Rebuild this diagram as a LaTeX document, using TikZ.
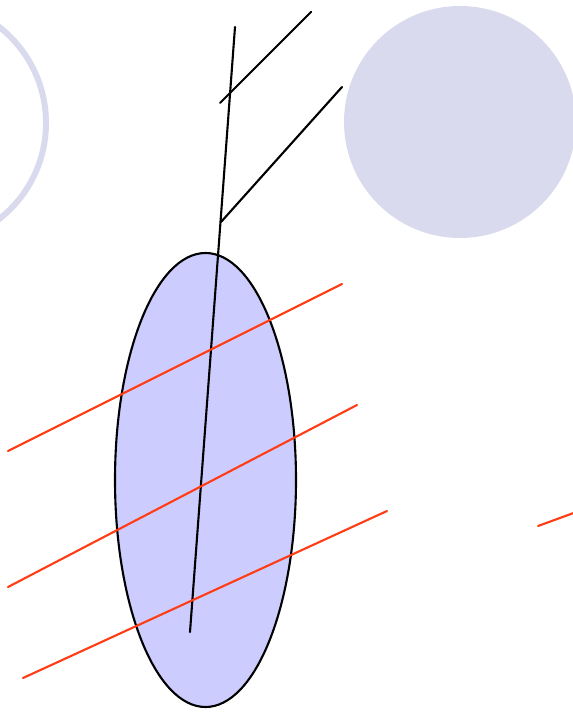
\documentclass[tikz,border=0pt]{standalone}
\usepackage{tikz}
\usetikzlibrary{positioning}
\definecolor{lavender}{HTML}{DADAEE}
\definecolor{lilac}{HTML}{CCCCFF}
\definecolor{redline}{HTML}{FF3C14}
\tikzset{
  stem/.style={black, line width=1.2pt},
  ray/.style={redline, line width=1.2pt}
}
\begin{document}
\begin{tikzpicture}[x=0.02cm,y=-0.02cm, line cap=round, line join=round]
\useasboundingbox (0,0) rectangle (573,712);
\clip (0,0) rectangle (573,712);

% Ring on the left
\draw[lavender, line width=3.4pt] (-76,123) circle (122);

% Disc on the right
\fill[lavender] (460,122) circle (116);

% Ellipse
\filldraw[fill=lilac, draw=black, line width=1.2pt] (205.5,480) ellipse (90.5 and 227);

% Stem with two branches
\coordinate (top) at (235,27);
\coordinate (foot) at (190,632);
\coordinate (b1s) at (220,103);
\coordinate (b1e) at (311,12);
\coordinate (b2s) at (221,222);
\coordinate (b2e) at (342,87);
\draw[stem] (top) -- (foot);
\draw[stem] (b1s) -- (b1e);
\draw[stem] (b2s) -- (b2e);

% Red lines
\coordinate (r1s) at (8,451);
\coordinate (r1e) at (342,284);
\coordinate (r2s) at (8,587);
\coordinate (r2e) at (357,405);
\coordinate (r3s) at (23,678);
\coordinate (r3e) at (387,511);
\coordinate (r4s) at (538,526);
\coordinate (r4e) at (590,507);
\draw[ray] (r1s) -- (r1e);
\draw[ray] (r2s) -- (r2e);
\draw[ray] (r3s) -- (r3e);
\draw[ray] (r4s) -- (r4e);
\end{tikzpicture}
\end{document}
